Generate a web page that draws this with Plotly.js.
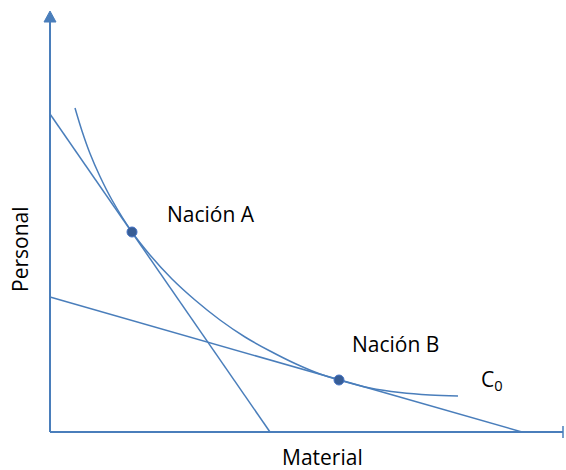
<!DOCTYPE html>
<html>
<head>
<meta charset="utf-8">
<script src="https://cdn.plot.ly/plotly-3.0.1.min.js"></script>
<style>html,body{margin:0;padding:0;background:#fff}#chart{width:566px;height:470px}</style>
</head>
<body>
<div id="chart"></div>
<script>
// Curve C0 (Material, Personal)
var curveX = [25, 32, 40, 50, 62, 82, 100, 122, 145, 170, 195, 220, 245, 270, 289, 320, 350, 380, 408];
var curveY = [324, 301, 278.5, 255.5, 232, 200, 177, 153, 132, 112, 95, 81, 68.5, 58, 52, 44, 39.5, 37, 36];
// Budget line tangent at Nación A
var lineAX = [0, 220];
var lineAY = [318, 0];
// Budget line tangent at Nación B
var lineBX = [0, 472];
var lineBY = [135, 0];
// Nations
var nationNames = ["Nación A", "Nación B"];
var nationX = [82, 289];
var nationY = [200, 52];
var curveLabel = "C<sub>0</sub>";
var xTitle = "Material";
var yTitle = "Personal";

var blue = "#4a7ebb";
var traces = [
  {x: curveX, y: curveY, mode: "lines", line: {color: blue, width: 1.5, shape: "spline", smoothing: 1}, hoverinfo: "skip"},
  {x: lineAX, y: lineAY, mode: "lines", line: {color: blue, width: 1.5}, hoverinfo: "skip"},
  {x: lineBX, y: lineBY, mode: "lines", line: {color: blue, width: 1.5}, hoverinfo: "skip"},
  {x: nationX, y: nationY, mode: "markers", marker: {size: 10, color: "#375d96", line: {color: "#4472c4", width: 1}}, text: nationNames, hoverinfo: "text"}
];

var font = {family: "Open Sans, sans-serif", size: 21, color: "#000"};
var layout = {
  width: 566, height: 470,
  margin: {l: 0, r: 0, t: 0, b: 0},
  paper_bgcolor: "#fff", plot_bgcolor: "#fff",
  showlegend: false,
  xaxis: {range: [-50, 516], visible: false, fixedrange: true},
  yaxis: {range: [-38, 432], visible: false, fixedrange: true},
  shapes: [
    {type: "line", x0: 0, y0: 0, x1: 0, y1: 411, line: {color: blue, width: 2}},
    {type: "path", path: "M -6,410 L 6,410 L 0,421 Z", fillcolor: blue, line: {color: blue, width: 1}},
    {type: "line", x0: 0, y0: 0, x1: 513, y1: 0, line: {color: blue, width: 2}},
    {type: "line", x0: 513, y0: -6, x1: 513, y1: 6, line: {color: blue, width: 1.5}}
  ],
  annotations: [
    {x: nationX[0] + 33, y: nationY[0] + 18, text: nationNames[0], showarrow: false, xanchor: "left", yanchor: "middle", font: font},
    {x: nationX[1] + 11, y: nationY[1] + 36, text: nationNames[1], showarrow: false, xanchor: "left", yanchor: "middle", font: font},
    {x: 429, y: 52, text: curveLabel, showarrow: false, xanchor: "left", yanchor: "middle", font: font},
    {x: 272, y: -25, text: xTitle, showarrow: false, xanchor: "center", yanchor: "middle", font: font},
    {x: -30, y: 183, text: yTitle, showarrow: false, textangle: -90, xanchor: "center", yanchor: "middle", font: font}
  ]
};
Plotly.newPlot("chart", traces, layout, {staticPlot: true, displayModeBar: false});
</script>
</body>
</html>
